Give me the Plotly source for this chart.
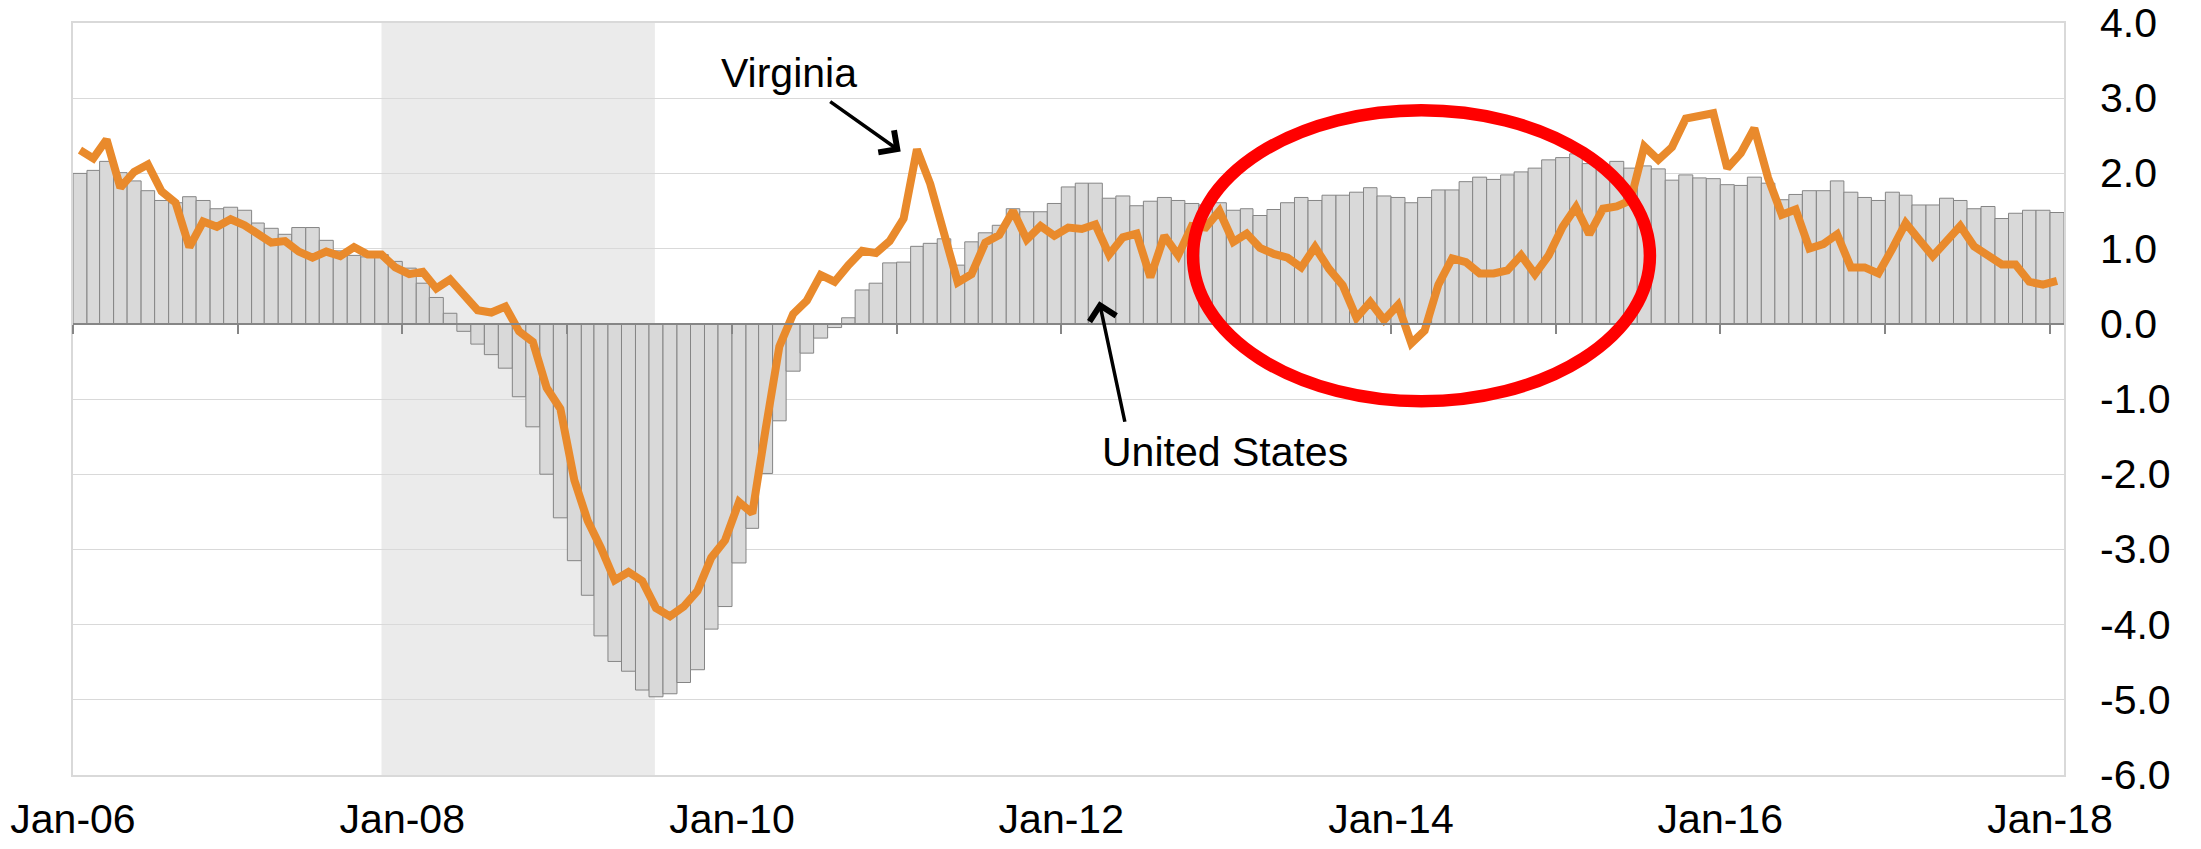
import pandas as pd
import plotly.graph_objects as go

# ---------------- data ----------------
FIRST_MONTH = "2006-01-01"
N_MONTHS = 145  # Jan-06 .. Jan-18

us_values = [
    2.00, 2.04, 2.16, 2.01, 1.90, 1.77, 1.64, 1.61, 1.69, 1.64, 1.53, 1.55,
    1.51, 1.34, 1.27, 1.19, 1.28, 1.28, 1.11, 0.97, 0.91, 0.89, 0.92, 0.83,
    0.74, 0.54, 0.35, 0.14, -0.10, -0.27, -0.41, -0.59, -0.97, -1.37, -2.00, -2.58,
    -3.15, -3.61, -4.15, -4.49, -4.62, -4.87, -4.96, -4.92, -4.77, -4.60, -4.06, -3.76,
    -3.18, -2.72, -1.99, -1.29, -0.63, -0.39, -0.19, -0.05, 0.08, 0.45, 0.54, 0.81,
    0.82, 1.03, 1.07, 1.13, 0.78, 1.09, 1.21, 1.31, 1.53, 1.49, 1.49, 1.60,
    1.82, 1.87, 1.87, 1.67, 1.70, 1.57, 1.63, 1.68, 1.64, 1.60, 1.58, 1.61,
    1.51, 1.53, 1.44, 1.52, 1.61, 1.68, 1.64, 1.71, 1.71, 1.75, 1.81, 1.70,
    1.68, 1.61, 1.68, 1.78, 1.78, 1.89, 1.95, 1.92, 1.98, 2.02, 2.07, 2.18,
    2.21, 2.26, 2.13, 2.07, 2.16, 2.07, 2.10, 2.06, 1.91, 1.98, 1.94, 1.93,
    1.85, 1.84, 1.95, 1.87, 1.65, 1.72, 1.77, 1.77, 1.90, 1.75, 1.68, 1.64,
    1.75, 1.71, 1.58, 1.58, 1.67, 1.64, 1.53, 1.56, 1.40, 1.47, 1.51, 1.51,
    1.48,
]

va_values = [
    2.31, 2.20, 2.45, 1.81, 2.02, 2.12, 1.76, 1.61, 1.02, 1.36, 1.29, 1.39,
    1.31, 1.19, 1.08, 1.10, 0.96, 0.88, 0.96, 0.90, 1.02, 0.92, 0.92, 0.75,
    0.66, 0.69, 0.47, 0.59, 0.39, 0.18, 0.15, 0.23, -0.10, -0.24, -0.85, -1.13,
    -2.08, -2.62, -2.98, -3.41, -3.30, -3.42, -3.78, -3.89, -3.76, -3.55, -3.11, -2.88,
    -2.37, -2.52, -1.40, -0.30, 0.13, 0.31, 0.65, 0.56, 0.78, 0.97, 0.94, 1.10,
    1.40, 2.32, 1.86, 1.18, 0.55, 0.66, 1.08, 1.18, 1.50, 1.12, 1.30, 1.17,
    1.28, 1.26, 1.32, 0.92, 1.15, 1.20, 0.62, 1.17, 0.91, 1.30, 1.28, 1.50,
    1.09, 1.20, 1.01, 0.93, 0.88, 0.75, 1.02, 0.73, 0.51, 0.08, 0.29, 0.05,
    0.25, -0.26, -0.09, 0.52, 0.87, 0.82, 0.67, 0.67, 0.71, 0.91, 0.66, 0.91,
    1.29, 1.55, 1.19, 1.53, 1.56, 1.64, 2.36, 2.18, 2.35, 2.73, 2.76, 2.80,
    2.07, 2.27, 2.60, 1.94, 1.45, 1.52, 1.00, 1.06, 1.19, 0.75, 0.75, 0.67,
    1.00, 1.34, 1.12, 0.90, 1.10, 1.30, 1.03, 0.92, 0.79, 0.79, 0.56, 0.52,
    0.57,
]

y_tick_values = [4, 3, 2, 1, 0, -1, -2, -3, -4, -5, -6]
y_tick_labels = ["4.0", "3.0", "2.0", "1.0", "0.0", "-1.0", "-2.0", "-3.0",
                 "-4.0", "-5.0", "-6.0"]

RECESSION_START = "2007-11-16"
RECESSION_END = "2009-07-14"

# annotation anchors (data coordinates)
VA_LABEL = ("2010-05-08", 3.33)
VA_ARROW_HEAD = ("2011-01-10", 2.29)
US_LABEL = ("2012-12-28", -1.70)
US_ARROW_HEAD = ("2012-03-25", 0.30)
ELLIPSE_X = ("2012-10-19", "2015-07-29")
ELLIPSE_Y = (-1.03, 2.84)

X_RANGE = ["2006-01-01", "2018-02-01"]
Y_RANGE = [-6, 4]

# ---------------- derived positions ----------------
edges = pd.date_range(FIRST_MONTH, periods=N_MONTHS + 1, freq="MS")
spans = edges[1:] - edges[:-1]
centers = edges[:-1] + spans / 2
widths_ms = [s.total_seconds() * 1000 for s in spans]

FONT = "Liberation Sans, Arial, sans-serif"
FS = 41

fig = go.Figure()

fig.add_trace(go.Bar(
    x=centers, y=us_values, width=widths_ms,
    marker=dict(color="#D9D9D9", line=dict(color="#858585", width=1)),
    name="United States", showlegend=False, xaxis="x", yaxis="y",
))

fig.add_trace(go.Scatter(
    x=centers, y=va_values, mode="lines",
    line=dict(color="#E98A2C", width=8),
    name="Virginia", showlegend=False, xaxis="x2", yaxis="y",
))

fig.add_shape(
    type="rect", xref="x", yref="paper",
    x0=RECESSION_START, x1=RECESSION_END, y0=0, y1=1,
    fillcolor="#EBEBEB", line=dict(width=0), layer="below",
)

fig.add_shape(
    type="circle", xref="x", yref="y",
    x0=ELLIPSE_X[0], x1=ELLIPSE_X[1], y0=ELLIPSE_Y[0], y1=ELLIPSE_Y[1],
    line=dict(color="#FF0000", width=12.5), layer="above",
)

# labels
fig.add_annotation(x=VA_LABEL[0], y=VA_LABEL[1], xref="x", yref="y",
                   text="Virginia", showarrow=False,
                   font=dict(family=FONT, size=FS, color="black"))
fig.add_annotation(x=US_LABEL[0], y=US_LABEL[1], xref="x", yref="y",
                   text="United States", showarrow=False,
                   font=dict(family=FONT, size=FS, color="black"))
# arrows
fig.add_annotation(x=VA_ARROW_HEAD[0], y=VA_ARROW_HEAD[1], xref="x", yref="y",
                   text="", showarrow=True, ax=-72, ay=-51,
                   arrowhead=4, arrowsize=1.5, arrowwidth=3.5, arrowcolor="black",
                   standoff=0)
fig.add_annotation(x=US_ARROW_HEAD[0], y=US_ARROW_HEAD[1], xref="x", yref="y",
                   text="", showarrow=True, ax=26, ay=122,
                   arrowhead=4, arrowsize=1.5, arrowwidth=3.5, arrowcolor="black",
                   standoff=0)

# left-aligned value labels to the right of the plot (as in the original)
for v, lab in zip(y_tick_values, y_tick_labels):
    fig.add_annotation(x=1, xref="paper", y=v, yref="y", text=lab,
                       showarrow=False, xanchor="left", yanchor="middle",
                       xshift=35, borderpad=0,
                       font=dict(family=FONT, size=FS, color="black"))

axis_border = "#D9D9D9"
fig.update_layout(
    width=2201, height=849,
    autosize=False,
    margin=dict(l=73, r=137, t=23, b=74, pad=0, autoexpand=False),
    paper_bgcolor="white", plot_bgcolor="white",
    barmode="overlay",
    font=dict(family=FONT, size=FS, color="black"),
    xaxis=dict(
        type="date", range=X_RANGE, automargin=False,
        tick0="2006-01-01", dtick="M24", tickformat="%b-%y",
        ticks="", showgrid=False, zeroline=False,
        showline=True, mirror=True, linecolor=axis_border, linewidth=2,
        tickfont=dict(family=FONT, size=FS, color="black"),
        ticklabelstandoff=7,
    ),
    xaxis2=dict(
        type="date", range=X_RANGE, overlaying="x", anchor="free", position=0.6,
        automargin=False,
        tick0="2006-01-01", dtick="M12",
        ticks="outside", ticklen=9, tickwidth=1.5, tickcolor="#868686",
        showticklabels=False, showgrid=False, zeroline=False,
        showline=True, linecolor="#868686", linewidth=1.5,
    ),
    xaxis3=dict(
        type="date", range=X_RANGE, overlaying="x", anchor="free", position=0.6,
        automargin=False, layer="below traces",
        tick0="2006-01-01", dtick="M12",
        ticks="inside", ticklen=9, tickwidth=1.5, tickcolor="#868686",
        showticklabels=False, showgrid=False, zeroline=False, showline=False,
    ),
    yaxis=dict(
        range=Y_RANGE, side="right", automargin=False,
        tickmode="array", tickvals=y_tick_values, showticklabels=False,
        showgrid=True, gridcolor="#D9D9D9", gridwidth=1.2,
        zeroline=False, ticks="",
        showline=True, mirror=True, linecolor=axis_border, linewidth=2,
    ),
)

fig.write_html(
    "out.html",
    config={"displayModeBar": False},
    post_script="document.body.style.margin='0';document.body.style.overflow='hidden';",
)
